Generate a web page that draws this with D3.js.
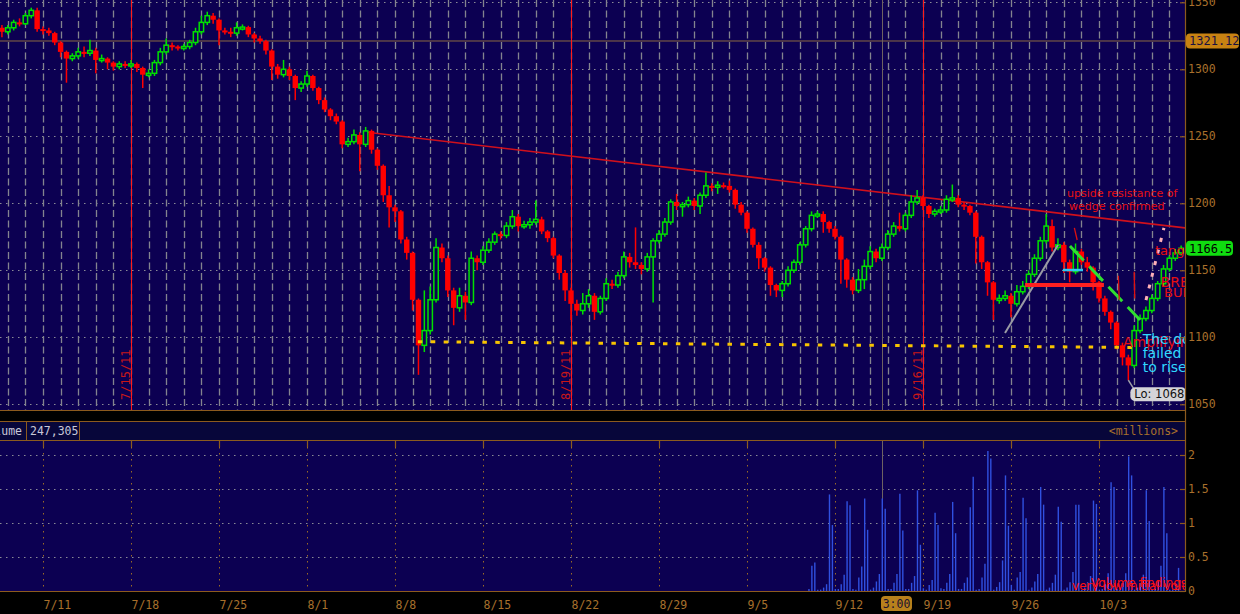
<!DOCTYPE html>
<html>
<head>
<meta charset="utf-8">
<script src="https://cdn.jsdelivr.net/npm/d3@7"></script>
<style>
  body { margin: 0; background: #000; }
  svg { display: block; }
</style>
</head>
<body>
<svg id="chart" width="1240" height="614"></svg>
<script>
'use strict';

// intraday candles, 3 per session; session 0 = Mon 7/11
var firstOpen = 1331;
var closes = [
    1328, 1331, 1335, 1334, 1340, 1344, 1330, 1329, 1327, 1320,
    1313, 1308, 1310, 1313, 1312, 1314, 1307, 1308, 1305, 1302,
    1304, 1303, 1304, 1301, 1296, 1297, 1305, 1313, 1318, 1317,
    1316, 1317, 1320, 1328, 1335, 1340, 1337, 1329, 1328, 1327,
    1331, 1331.5, 1326, 1323, 1321, 1314, 1302, 1296, 1300, 1295,
    1286, 1289, 1295, 1286, 1277, 1270, 1265, 1261, 1244, 1246,
    1251, 1244, 1254, 1240, 1228, 1206, 1197, 1194, 1173, 1163,
    1128, 1094, 1105, 1128, 1167, 1159, 1135, 1122, 1131, 1126,
    1159, 1156, 1165, 1171, 1177, 1176, 1183, 1190, 1183, 1184,
    1186, 1188, 1179, 1174, 1161, 1148, 1135, 1125, 1120, 1125,
    1131, 1119, 1129, 1140, 1139, 1146, 1160, 1156, 1154, 1151,
    1160, 1172, 1177, 1186, 1201, 1198, 1199, 1202, 1198, 1206,
    1213, 1212, 1213.5, 1213, 1210, 1199, 1193, 1181, 1169, 1159,
    1152, 1139, 1135, 1140, 1150, 1156, 1169, 1181, 1191, 1192,
    1186, 1181, 1175, 1158, 1143, 1135, 1143, 1153, 1164, 1159,
    1167, 1177, 1183, 1181, 1191, 1201, 1204, 1198, 1192, 1194,
    1195, 1203, 1204, 1199, 1198, 1193, 1175, 1156, 1141, 1128,
    1129, 1131, 1125, 1134, 1138, 1147, 1159, 1172, 1183, 1167,
    1169, 1156, 1149, 1164, 1156, 1152, 1141, 1129, 1119, 1111,
    1094, 1085, 1079, 1105, 1114, 1120, 1129, 1140, 1151, 1159,
    1163, 1166.5
];
// wick length above max(open,close) / below min(open,close), in points
var wickUp = [
    2, 2, 2, 3, 2, 2, 2, 2, 2, 1,
    1, 1, 2, 3, 4, 8, 2, 3, 1, 1,
    2, 2, 3, 1, 1, 3, 2, 3, 5, 2,
    1, 2, 2, 3, 5, 3, 2, 1, 2, 3,
    4, 2, 1, 1, 2, 1, 1, 2, 7, 2,
    1, 2, 4, 1, 1, 2, 1, 2, 1, 3,
    4, 2, 3, 1, 1, 1, 7, 2, 1, 2,
    1, 1, 30, 10, 7, 3, 2, 2, 6, 3,
    5, 2, 3, 3, 2, 2, 3, 5, 2, 3,
    3, 14, 2, 1, 1, 1, 2, 2, 3, 8,
    5, 2, 2, 4, 3, 3, 4, 3, 26, 2,
    3, 2, 3, 3, 2, 6, 2, 3, 2, 2,
    10, 2, 3, 2, 4, 1, 2, 1, 1, 2,
    1, 1, 1, 2, 3, 2, 2, 2, 3, 2,
    2, 1, 2, 1, 1, 2, 8, 5, 4, 2,
    3, 3, 3, 10, 2, 5, 6, 2, 1, 2,
    3, 3, 10, 2, 2, 1, 1, 1, 1, 1,
    3, 4, 2, 5, 4, 3, 3, 3, 9, 5,
    5, 2, 2, 6, 2, 4, 1, 1, 2, 1,
    1, 2, 2, 4, 3, 3, 3, 2, 3, 2,
    3, 2
];
var wickDn = [
    4, 2, 2, 2, 1, 2, 2, 3, 2, 2,
    4, 18, 2, 2, 3, 2, 10, 2, 5, 3,
    2, 2, 2, 3, 10, 2, 2, 2, 2, 3,
    2, 2, 2, 2, 2, 2, 3, 11, 2, 3,
    2, 2, 2, 3, 2, 3, 10, 3, 2, 3,
    9, 3, 2, 2, 3, 2, 3, 2, 3, 2,
    2, 20, 2, 3, 3, 5, 15, 8, 3, 5,
    8, 22, 5, 3, 2, 3, 5, 13, 3, 13,
    2, 6, 2, 2, 2, 3, 2, 2, 4, 2,
    3, 2, 2, 3, 2, 5, 8, 12, 4, 3,
    3, 6, 2, 2, 3, 2, 2, 4, 3, 4,
    2, 34, 2, 2, 2, 3, 8, 2, 3, 6,
    2, 3, 5, 2, 2, 3, 2, 3, 2, 8,
    3, 8, 5, 5, 2, 2, 2, 2, 2, 2,
    8, 3, 2, 18, 6, 3, 2, 7, 2, 3,
    2, 2, 2, 2, 2, 2, 2, 3, 3, 2,
    2, 2, 2, 2, 3, 2, 20, 5, 10, 15,
    3, 2, 10, 2, 2, 2, 2, 2, 2, 3,
    2, 8, 8, 2, 2, 3, 6, 3, 3, 5,
    3, 6, 11, 2, 2, 2, 2, 2, 2, 2,
    2, 2
];

// hourly volume in millions (only loaded for the last weeks)
var volumes = [
    0.03, 0.37, 0.42, 0.02, 0.02, 0.05,
    0.10, 1.42, 0.97, 0.03, 0.03, 0.10,
    0.24, 1.32, 1.26, 0.03, 0.02, 0.20,
    0.36, 1.36, 0.90, 0.02, 0.05, 0.14,
    0.25, 1.36, 1.21, 0.03, 0.03, 0.12,
    0.25, 1.43, 0.89, 0.03, 0.03, 0.12,
    0.22, 1.48, 0.68, 0.04, 0.02, 0.09,
    0.16, 1.15, 0.97, 0.04, 0.03, 0.12,
    0.25, 1.31, 0.85, 0.03, 0.03, 0.12,
    0.20, 1.23, 1.68, 0.02, 0.03, 0.20,
    0.40, 2.06, 1.95, 0.02, 0.06, 0.13,
    0.45, 1.70, 0.96, 0.09, 0.02, 0.20,
    0.28, 1.37, 1.07, 0.02, 0.05, 0.14,
    0.25, 1.53, 1.27, 0.02, 0.05, 0.12,
    0.24, 1.24, 1.02, 0.02, 0.05, 0.13,
    0.28, 1.27, 1.27, 0.02, 0.05, 0.13,
    0.22, 1.33, 1.28, 0.02, 0.03, 0.10,
    0.26, 1.60, 1.53, 0.03, 0.05, 0.12,
    0.26, 1.98, 1.70, 0.02, 0.05, 0.12,
    0.24, 1.48, 1.03, 0.02, 0.03, 0.14,
    0.37, 1.53, 0.85, 0.02, 0.03, 0.10,
    0.34
];

var priceTicks = [1050, 1100, 1150, 1200, 1250, 1300, 1350];
var volumeTicks = [0, 0.5, 1, 1.5, 2];
var weekLabels = ['7/11', '7/18', '7/25', '8/1', '8/8', '8/15', '8/22', '8/29', '9/5', '9/12', '9/19', '9/26', '10/3'];
var weekDays = [0, 5, 10, 15, 20, 25, 30, 35, 40, 45, 50, 55, 60];
var expiryLabels = ['7/15/11', '8/19/11', '9/16/11'];
var expiryDays = [5, 30, 50];
var refLevel = 1321.12;
var cursorDay = 47.67;
var cursorLabel = '3:00';
var volumeTotal = '247,305';

// drawn studies: [session, price] pairs
var trendLine = [[18.3, 1253.2], [64.9, 1181.6]];
var supportLine = [[21.3, 1096.7], [62.33, 1092.4]];
var riseLine = [[54.66, 1103.2], [57.67, 1168.9]];
var neckLine = [[55.8, 1139.0], [60.28, 1139.0]];
var cyanLine = [[57.95, 1150.2], [59.09, 1150.2]];
var fallLine = [[58.35, 1168.1], [62.33, 1112.9]];
var tangentLine = [[62.67, 1127.8], [63.69, 1181.6]];
var arrows = [
    [[58.6, 1181.6], [58.76, 1172.6]],
    [[61.1, 1146.0], [61.15, 1128.0]],
    [[62.0, 1149.0], [62.03, 1129.0]]
];
var notes = [
    {t: 58.18, p: 1204.7, text: 'upside resistance of', color: '#e81010', size: 11},
    {t: 58.3, p: 1195.0, text: 'wedge confirmed', color: '#e81010', size: 11},
    {t: 63.18, p: 1161.4, text: 'tange', color: '#e81010', size: 13},
    {t: 63.5, p: 1137.5, text: 'BREA', color: '#e81010', size: 14},
    {t: 63.7, p: 1130.2, text: 'BUM', color: '#e81010', size: 13},
    {t: 61.36, p: 1092.8, text: 'Amplifying', color: '#e81010', size: 14},
    {t: 62.48, p: 1095.0, text: 'The down', color: '#30d8ff', size: 14},
    {t: 62.48, p: 1084.6, text: 'failed v', color: '#30d8ff', size: 14},
    {t: 62.48, p: 1073.8, text: 'to rise a', color: '#30d8ff', size: 14}
];
var volumeNotes = [
    {t: 59.55, v: 0.06, text: 'Volume findings'},
    {t: 58.47, v: 0.015, text: 'very low initial volume'}
];

var candleStart = -7 / 3, candleStep = 1 / 3;
var volStart = 43.52, volStep = 1 / 6;

var bg = '#0c0052',
    axisColor = '#a8702c',
    lineColor = '#8c5a1e',
    upColor = '#00e000',
    downColor = '#ff0000',
    mono = '"DejaVu Sans Mono", monospace';

var plotRight = 1185, mainBottom = 410, volTop = 441, volBottom = 591;

var x = d3.scaleLinear().domain([0, 60]).range([43, 1099]);
var y = d3.scaleLinear().domain([1050, 1350]).range([404.3, 2.3]);
var yv = d3.scaleLinear().domain([0, 2]).range([volBottom, 455]);

var line = d3.line()
    .x(function(d) { return x(d[0]); })
    .y(function(d) { return y(d[1]); });

var svg = d3.select('#chart');
svg.append('rect').attr('width', 1240).attr('height', 614).attr('fill', '#000');

var defs = svg.append('defs');
defs.append('clipPath').attr('id', 'clipMain')
    .append('rect').attr('width', plotRight).attr('height', mainBottom);
defs.append('clipPath').attr('id', 'clipVol')
    .append('rect').attr('y', volTop).attr('width', plotRight).attr('height', volBottom - volTop);

// ---------- price panel ----------
var main = svg.append('g').attr('clip-path', 'url(#clipMain)');
main.append('rect').attr('width', plotRight).attr('height', mainBottom).attr('fill', bg);

main.selectAll('.hgrid')
    .data(priceTicks)
    .enter().append('line')
    .attr('x1', 0).attr('x2', plotRight)
    .attr('y1', function(d) { return Math.round(y(d)) + 0.5; })
    .attr('y2', function(d) { return Math.round(y(d)) + 0.5; })
    .attr('stroke', '#8a8a96')
    .attr('stroke-dasharray', '1.5,4.5');

main.selectAll('.vgrid')
    .data(d3.range(-3, 66))
    .enter().append('line')
    .attr('x1', function(d) { return Math.round(x(d)) + 0.5; })
    .attr('x2', function(d) { return Math.round(x(d)) + 0.5; })
    .attr('y1', 0).attr('y2', mainBottom)
    .attr('stroke', '#84848f')
    .attr('stroke-width', 1.3)
    .attr('stroke-dasharray', '7,3.5');

main.append('line')
    .attr('x1', 0).attr('x2', plotRight)
    .attr('y1', y(refLevel)).attr('y2', y(refLevel))
    .attr('stroke', '#8c6a40');

main.selectAll('.expiry')
    .data(expiryDays)
    .enter().append('line')
    .attr('x1', function(d) { return Math.round(x(d)) + 0.5; })
    .attr('x2', function(d) { return Math.round(x(d)) + 0.5; })
    .attr('y1', 0).attr('y2', mainBottom)
    .attr('stroke', '#ff1a1a')
    .attr('stroke-width', 1);

main.selectAll('.expiryLabel')
    .data(expiryDays)
    .enter().append('text')
    .attr('transform', function(d) { return 'translate(' + (x(d) - 1.5) + ',400) rotate(-90)'; })
    .attr('font-family', mono)
    .attr('font-size', 12)
    .attr('fill', '#c81818')
    .text(function(d, i) { return expiryLabels[i]; });

main.append('line')
    .attr('x1', Math.round(x(cursorDay)) + 0.5).attr('x2', Math.round(x(cursorDay)) + 0.5)
    .attr('y1', 0).attr('y2', mainBottom)
    .attr('stroke', '#6e6262');

main.append('path')
    .attr('d', line(trendLine))
    .attr('fill', 'none')
    .attr('stroke', '#d0101c')
    .attr('stroke-width', 1.6);

// candles
var candles = closes.map(function(c, i) {
    var o = i === 0 ? firstOpen : closes[i - 1];
    return {
        t: candleStart + i * candleStep,
        o: o,
        c: c,
        h: Math.max(o, c) + wickUp[i],
        l: Math.min(o, c) - wickDn[i]
    };
});

var cg = main.append('g');
cg.selectAll('.wick')
    .data(candles)
    .enter().append('line')
    .attr('x1', function(d) { return x(d.t); })
    .attr('x2', function(d) { return x(d.t); })
    .attr('y1', function(d) { return y(d.h); })
    .attr('y2', function(d) { return y(d.l); })
    .attr('stroke', function(d) { return d.c >= d.o ? upColor : downColor; })
    .attr('stroke-width', 1.5);

cg.selectAll('.body')
    .data(candles)
    .enter().append('rect')
    .attr('x', function(d) { return d.c >= d.o ? x(d.t) - 2.2 : x(d.t) - 2.7; })
    .attr('width', function(d) { return d.c >= d.o ? 4.4 : 5.4; })
    .attr('y', function(d) { return y(Math.max(d.o, d.c)); })
    .attr('height', function(d) { return Math.max(2, Math.abs(y(d.o) - y(d.c))); })
    .attr('fill', function(d) { return d.c >= d.o ? bg : downColor; })
    .attr('stroke', function(d) { return d.c >= d.o ? upColor : 'none'; })
    .attr('stroke-width', 1.5);

main.append('path')
    .attr('d', line(supportLine))
    .attr('fill', 'none')
    .attr('stroke', '#f8c400')
    .attr('stroke-width', 3)
    .attr('stroke-dasharray', '4.5,8.4');

// drawings near the right edge
main.append('path').attr('d', line(riseLine))
    .attr('stroke', '#9a9aa4').attr('stroke-width', 2).attr('fill', 'none');
main.append('path').attr('d', line(neckLine))
    .attr('stroke', '#ff2020').attr('stroke-width', 4).attr('fill', 'none');
main.append('path').attr('d', line(cyanLine))
    .attr('stroke', '#30c8f0').attr('stroke-width', 2.5).attr('fill', 'none');
main.append('path').attr('d', line(fallLine))
    .attr('stroke', '#30e030').attr('stroke-width', 3).attr('fill', 'none')
    .attr('stroke-dasharray', '20,8');
main.append('path').attr('d', line(tangentLine))
    .attr('stroke', '#ffb0b8').attr('stroke-width', 3).attr('fill', 'none')
    .attr('stroke-dasharray', '4,8');
main.selectAll('.arrow')
    .data(arrows)
    .enter().append('path')
    .attr('d', function(d) { return line(d); })
    .attr('stroke', '#e01010').attr('stroke-width', 1.3).attr('fill', 'none');

main.selectAll('.note')
    .data(notes)
    .enter().append('text')
    .attr('x', function(d) { return x(d.t); })
    .attr('y', function(d) { return y(d.p); })
    .attr('font-family', '"DejaVu Sans", sans-serif')
    .attr('font-size', function(d) { return d.size; })
    .attr('fill', function(d) { return d.color; })
    .text(function(d) { return d.text; });

// low marker
var lowCandle = candles.reduce(function(a, b) { return b.l < a.l ? b : a; });
main.append('line')
    .attr('x1', x(lowCandle.t)).attr('y1', y(lowCandle.l))
    .attr('x2', x(lowCandle.t) + 5).attr('y2', y(lowCandle.l) + 8)
    .attr('stroke', '#a0a0a8').attr('stroke-width', 1.5);
main.append('rect')
    .attr('x', x(lowCandle.t) + 2).attr('y', y(lowCandle.l) + 7)
    .attr('width', 56).attr('height', 14).attr('rx', 5)
    .attr('fill', '#d4d4d8');
main.append('text')
    .attr('x', x(lowCandle.t) + 6).attr('y', y(lowCandle.l) + 18)
    .attr('font-family', '"DejaVu Sans", sans-serif')
    .attr('font-size', 11.5)
    .attr('fill', '#101010')
    .text('Lo: ' + d3.format('d')(lowCandle.l));

// ---------- frame and separators ----------
svg.append('rect').attr('x', 0).attr('y', 421).attr('width', plotRight).attr('height', 19).attr('fill', '#07063a');
svg.append('rect').attr('x', 0).attr('y', volTop).attr('width', plotRight).attr('height', volBottom - volTop).attr('fill', bg);

[410.5, 421.5, 440.5, 591.5].forEach(function(yy) {
    svg.append('line').attr('x1', 0).attr('x2', plotRight + 1).attr('y1', yy).attr('y2', yy)
        .attr('stroke', lineColor).attr('stroke-width', 1.2);
});
svg.append('line').attr('x1', plotRight + 0.5).attr('x2', plotRight + 0.5).attr('y1', 0).attr('y2', 592)
    .attr('stroke', lineColor).attr('stroke-width', 1.2);
[26.5, 79.5].forEach(function(xx) {
    svg.append('line').attr('x1', xx).attr('x2', xx).attr('y1', 421).attr('y2', 441)
        .attr('stroke', lineColor);
});
// panel title is cut by the left edge, as in the terminal
svg.append('text').attr('x', 22).attr('y', 435).attr('text-anchor', 'end')
    .attr('font-family', mono).attr('font-size', 11.5).attr('fill', '#c8c8d8').text('Volume');
svg.append('text').attr('x', 30).attr('y', 435)
    .attr('font-family', mono).attr('font-size', 11.5).attr('fill', '#c8c8d8').text(volumeTotal);
svg.append('text').attr('x', 1178).attr('y', 435).attr('text-anchor', 'end')
    .attr('font-family', mono).attr('font-size', 11.5).attr('fill', axisColor).text('<millions>');

// ---------- volume panel ----------
var vol = svg.append('g').attr('clip-path', 'url(#clipVol)');
vol.selectAll('.vhgrid')
    .data(volumeTicks.slice(1))
    .enter().append('line')
    .attr('x1', 0).attr('x2', plotRight)
    .attr('y1', function(d) { return Math.round(yv(d)) + 0.5; })
    .attr('y2', function(d) { return Math.round(yv(d)) + 0.5; })
    .attr('stroke', '#8a8a96')
    .attr('stroke-dasharray', '1.5,4.5');
vol.selectAll('.vvgrid')
    .data(weekDays)
    .enter().append('line')
    .attr('x1', function(d) { return Math.round(x(d)) + 0.5; })
    .attr('x2', function(d) { return Math.round(x(d)) + 0.5; })
    .attr('y1', volTop).attr('y2', volBottom)
    .attr('stroke', '#9a6a26')
    .attr('stroke-dasharray', '1.5,4.5');
vol.append('line')
    .attr('x1', Math.round(x(cursorDay)) + 0.5).attr('x2', Math.round(x(cursorDay)) + 0.5)
    .attr('y1', volTop).attr('y2', volBottom)
    .attr('stroke', '#6e6262');

vol.selectAll('.vbar')
    .data(volumes)
    .enter().append('line')
    .attr('x1', function(d, i) { return x(volStart + i * volStep); })
    .attr('x2', function(d, i) { return x(volStart + i * volStep); })
    .attr('y1', yv(0))
    .attr('y2', function(d) { return yv(d); })
    .attr('stroke', '#3050e0')
    .attr('stroke-width', 1.4);

vol.selectAll('.vnote')
    .data(volumeNotes)
    .enter().append('text')
    .attr('x', function(d) { return x(d.t); })
    .attr('y', function(d) { return yv(d.v); })
    .attr('font-family', '"DejaVu Sans", sans-serif')
    .attr('font-size', 12)
    .attr('fill', '#ff1010')
    .text(function(d) { return d.text; });

svg.selectAll('.weekTick')
    .data(weekDays)
    .enter().append('line')
    .attr('x1', function(d) { return Math.round(x(d)) + 0.5; })
    .attr('x2', function(d) { return Math.round(x(d)) + 0.5; })
    .attr('y1', volTop).attr('y2', volTop + 6)
    .attr('stroke', lineColor).attr('stroke-width', 1.2);

// ---------- axes ----------
function styleAxis(g) {
    g.select('.domain').remove();
    g.attr('font-family', mono).attr('font-size', 11.5);
    g.selectAll('line').attr('stroke', lineColor).attr('stroke-width', 1.2);
    g.selectAll('text').attr('fill', axisColor);
}

svg.append('g')
    .attr('transform', 'translate(' + plotRight + ',0)')
    .call(d3.axisRight(y).tickValues(priceTicks).tickSizeInner(-5).tickSizeOuter(0).tickPadding(3)
        .tickFormat(d3.format('d')))
    .call(styleAxis);

svg.append('g')
    .attr('transform', 'translate(' + plotRight + ',0)')
    .call(d3.axisRight(yv).tickValues(volumeTicks).tickSizeInner(-5).tickSizeOuter(0).tickPadding(3)
        .tickFormat(d3.format('~g')))
    .call(styleAxis);

svg.append('g')
    .attr('transform', 'translate(0,' + volBottom + ')')
    .call(d3.axisBottom(x).tickValues(weekDays).tickSize(0).tickPadding(10)
        .tickFormat(function(d, i) { return weekLabels[i]; }))
    .call(styleAxis)
    .selectAll('text').attr('text-anchor', 'start');

// price tags on the right axis
function tag(price, label, fill, textFill, w) {
    var yy = y(price);
    svg.append('rect')
        .attr('x', plotRight + 1).attr('y', yy - 7.5)
        .attr('width', w).attr('height', 15).attr('rx', 4)
        .attr('fill', fill);
    svg.append('text')
        .attr('x', plotRight + 4).attr('y', yy + 4.5)
        .attr('font-family', mono).attr('font-size', 12)
        .attr('fill', textFill)
        .text(label);
}
tag(refLevel, d3.format('.2f')(refLevel), '#c88212', '#1a1040', 53);
tag(closes[closes.length - 1], String(closes[closes.length - 1]), '#10dd10', '#000', 47);

// time cursor label
svg.append('rect')
    .attr('x', x(cursorDay) - 1).attr('y', 596)
    .attr('width', 31).attr('height', 15).attr('rx', 4)
    .attr('fill', '#b8801c');
svg.append('text')
    .attr('x', x(cursorDay) + 14.5).attr('y', 608)
    .attr('text-anchor', 'middle')
    .attr('font-family', mono).attr('font-size', 11.5)
    .attr('fill', '#1a1030')
    .text(cursorLabel);
</script>
</body>
</html>
